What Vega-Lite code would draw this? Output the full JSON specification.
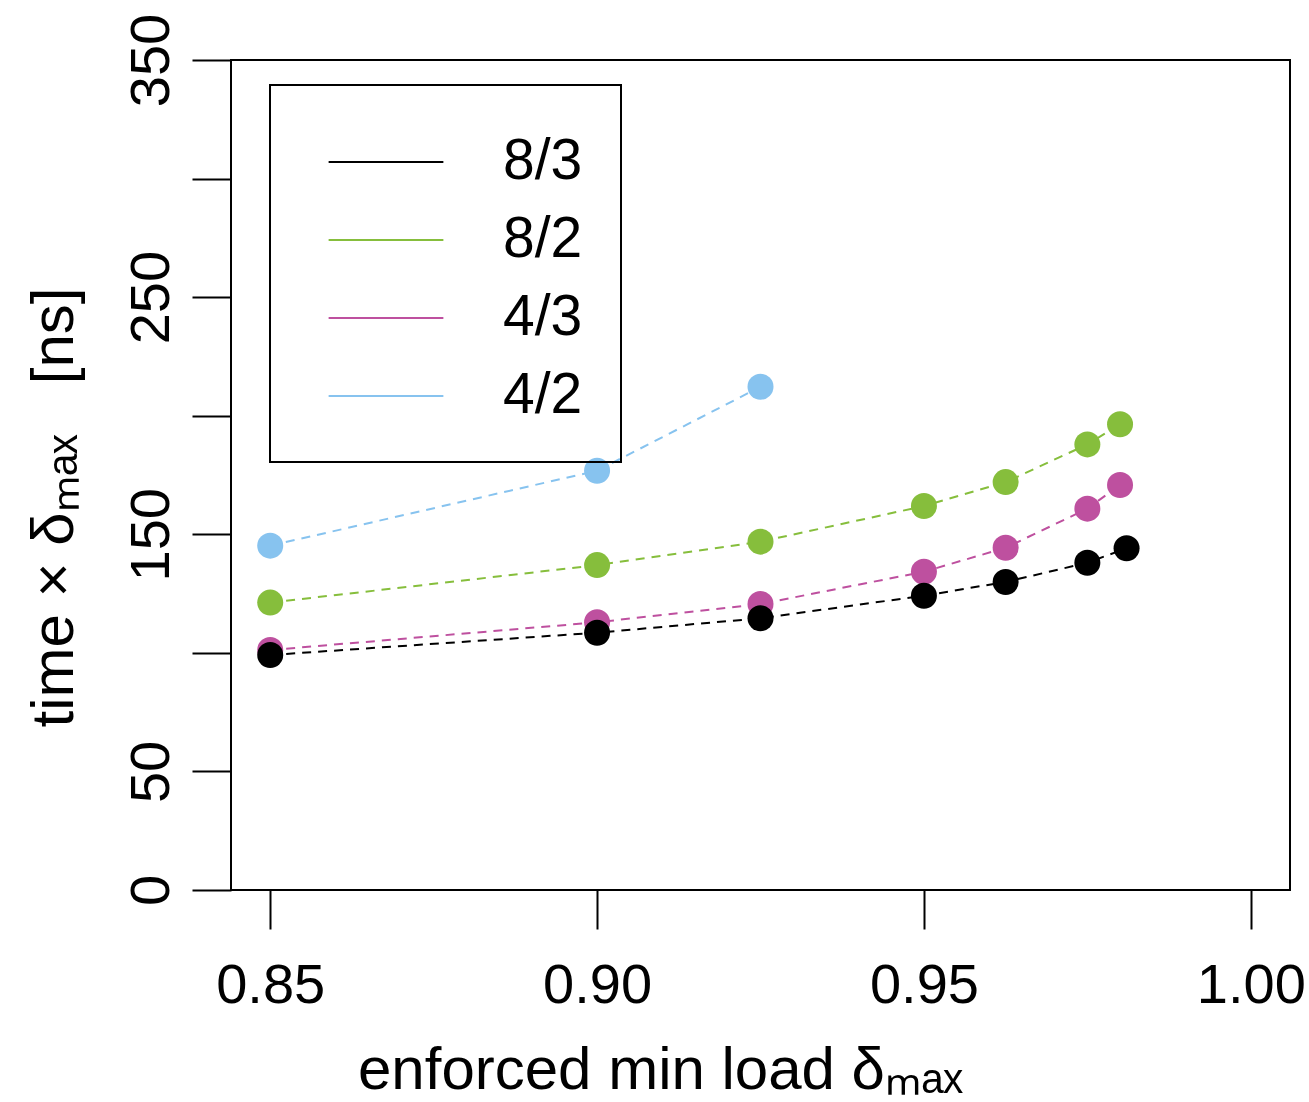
{
  "$schema": "https://vega.github.io/schema/vega-lite/v6.json",
  "width": 1059,
  "height": 830,
  "autosize": {"type": "none"},
  "padding": {"left": 231, "top": 60, "right": 19, "bottom": 212},
  "background": "white",
  "config": {
    "font": "Liberation Sans",
    "view": {"stroke": "black", "strokeWidth": 2},
    "legend": {"strokeWidth": 2},
    "axis": {
      "grid": false,
      "domain": false,
      "tickColor": "black",
      "tickWidth": 2,
      "tickSize": 39,
      "labelFontSize": 56,
      "labelColor": "black",
      "labelFont": "Liberation Sans",
      "titleFontSize": 60,
      "titleFontWeight": "normal",
      "titleColor": "black",
      "titleFont": "Liberation Sans"
    }
  },
  "data": {
    "values": [
      {"series": "4/2", "x": 0.85, "y": 145.2},
      {"series": "4/2", "x": 0.90, "y": 176.8},
      {"series": "4/2", "x": 0.925, "y": 212.2},
      {"series": "8/2", "x": 0.85, "y": 121.2},
      {"series": "8/2", "x": 0.90, "y": 137.0},
      {"series": "8/2", "x": 0.925, "y": 146.9},
      {"series": "8/2", "x": 0.95, "y": 161.9},
      {"series": "8/2", "x": 0.9625, "y": 172.0},
      {"series": "8/2", "x": 0.975, "y": 187.9},
      {"series": "8/2", "x": 0.98, "y": 196.4},
      {"series": "4/3", "x": 0.85, "y": 101.2},
      {"series": "4/3", "x": 0.90, "y": 112.9},
      {"series": "4/3", "x": 0.925, "y": 120.6},
      {"series": "4/3", "x": 0.95, "y": 134.2},
      {"series": "4/3", "x": 0.9625, "y": 144.3},
      {"series": "4/3", "x": 0.975, "y": 160.8},
      {"series": "4/3", "x": 0.98, "y": 170.8},
      {"series": "8/3", "x": 0.85, "y": 99.1},
      {"series": "8/3", "x": 0.90, "y": 108.5},
      {"series": "8/3", "x": 0.925, "y": 114.6},
      {"series": "8/3", "x": 0.95, "y": 124.1},
      {"series": "8/3", "x": 0.9625, "y": 129.9},
      {"series": "8/3", "x": 0.975, "y": 138.0},
      {"series": "8/3", "x": 0.981, "y": 144.1}
    ]
  },
  "encoding": {
    "x": {
      "field": "x",
      "type": "quantitative",
      "scale": {"domain": [0.844, 1.006], "nice": false, "zero": false},
      "axis": {
        "values": [0.85, 0.9, 0.95, 1.0],
        "format": ".2f",
        "labelPadding": 29,
        "title": "enforced min load δₘₐₓ",
        "titleX": 429,
        "titleY": 198,
        "titleAlign": "center",
        "titleBaseline": "alphabetic"
      }
    },
    "y": {
      "field": "y",
      "type": "quantitative",
      "scale": {"domain": [0, 350], "nice": false, "zero": true},
      "axis": {
        "values": [0, 50, 100, 150, 200, 250, 300, 350],
        "labelExpr": "(datum.value == 100 || datum.value == 200 || datum.value == 300) ? '' : datum.label",
        "labelAngle": 270,
        "labelAlign": "center",
        "labelBaseline": "alphabetic",
        "labelPadding": 24,
        "title": "time × δₘₐₓ\u00a0\u00a0\u00a0[ns]",
        "titleAngle": 270,
        "titleX": -159,
        "titleY": 447,
        "titleAlign": "center",
        "titleBaseline": "alphabetic"
      }
    }
  },
  "layer": [
    {
      "mark": {"type": "line", "strokeDash": [9, 7], "strokeWidth": 2},
      "encoding": {
        "color": {
          "field": "series",
          "type": "nominal",
          "scale": {
            "domain": ["8/3", "8/2", "4/3", "4/2"],
            "range": ["#000000", "#86BE3C", "#BE509F", "#87C3EF"]
          },
          "legend": {
            "orient": "none",
            "legendX": 39,
            "legendY": 25,
            "title": null,
            "padding": 38,
            "strokeColor": "black",
            "symbolType": "M-1.51,0H1.51",
            "symbolSize": 5776,
            "symbolStrokeWidth": 2,
            "symbolDash": [1, 0],
            "symbolOffset": 39,
            "labelOffset": 78,
            "labelFontSize": 57,
            "labelFont": "Liberation Sans",
            "labelColor": "black",
            "rowPadding": 11
          }
        }
      }
    },
    {
      "mark": {"type": "point", "filled": true, "shape": "circle", "size": 676, "opacity": 1},
      "encoding": {
        "color": {
          "field": "series",
          "type": "nominal",
          "legend": null
        }
      }
    }
  ],
  "resolve": {"legend": {"color": "independent"}}
}
